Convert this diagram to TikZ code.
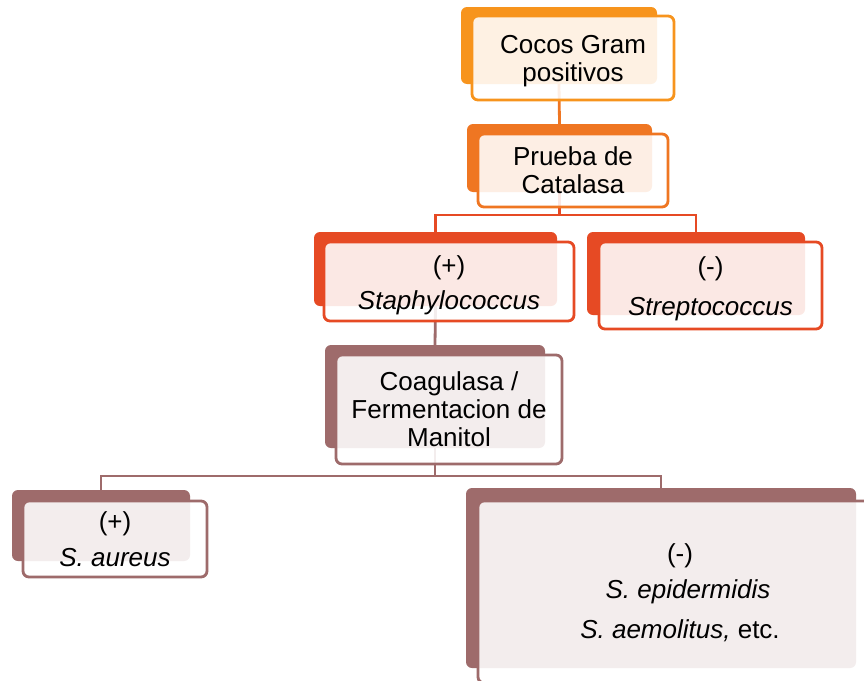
\documentclass[tikz,border=0pt]{standalone}
\usepackage{fontspec}
\setmainfont{Liberation Sans}
\definecolor{cA}{HTML}{F7941D}
\definecolor{cB}{HTML}{EF7622}
\definecolor{cC}{HTML}{E64A24}
\definecolor{cD}{HTML}{9E6B6B}
\begin{document}
\begin{tikzpicture}[x=1pt,y=-1pt,
  backbox/.style={draw=none,fill=#1,rounded corners=6pt,inner sep=0pt},
  frontbox/.style={draw=#1,fill=white,fill opacity=0.88,line width=2.8pt,rounded corners=6pt,inner sep=0pt},
  label text/.style={align=center,inner sep=0pt,font=\fontsize{26}{28}\selectfont},
  conn/.style={draw=#1,line width=2.8pt}]
\useasboundingbox (0,0) rectangle (864,680);
\fill[white] (0,0) rectangle (864,680);
% back boxes
\node[backbox=cA,minimum width=196pt,minimum height=77pt] (b1) at (559,45.5) {};
\node[backbox=cB,minimum width=185pt,minimum height=68pt] (b2) at (559.5,158) {};
\node[backbox=cC,minimum width=243pt,minimum height=74pt] (b3) at (435.5,269) {};
\node[backbox=cC,minimum width=218pt,minimum height=83pt] (b4) at (696,273.5) {};
\node[backbox=cD,minimum width=220pt,minimum height=103pt] (b5) at (435,396.5) {};
\node[backbox=cD,minimum width=178pt,minimum height=71pt] (b6) at (101,525.5) {};
\node[backbox=cD,minimum width=390pt,minimum height=180pt] (b7) at (661,578) {};
% connectors
\coordinate (j2) at (559.5,215);
\coordinate (j5) at (435,476);
\draw[conn=cB] (b1.south) -- (b2.north);
\draw[conn=cC] (b2.south) -- (j2);
\draw[conn=cC] (b3.north) |- (j2) -| (b4.north);
\draw[conn=cD] (b3.south) -- (b5.north);
\draw[conn=cD] (b5.south) -- (j5);
\draw[conn=cD] (b6.north) |- (j5) -| (b7.north);
% front boxes
\node[frontbox=cA,minimum width=202pt,minimum height=84pt] (f1) at (573,58) {};
\node[frontbox=cB,minimum width=190pt,minimum height=73pt] (f2) at (573,170.5) {};
\node[frontbox=cC,minimum width=250pt,minimum height=79pt] (f3) at (449,281.5) {};
\node[frontbox=cC,minimum width=223pt,minimum height=87pt] (f4) at (710.5,285.5) {};
\node[frontbox=cD,minimum width=226pt,minimum height=109pt] (f5) at (449,409.5) {};
\node[frontbox=cD,minimum width=184pt,minimum height=76pt] (f6) at (115,539) {};
\node[frontbox=cD,minimum width=404pt,minimum height=182pt] (f7) at (680,592) {};
% texts
\node[label text] (t1) at (573,61) {Cocos Gram\\positivos};
\node[label text] (t2) at (573,170.5) {Prueba de\\Catalasa};
\node[label text] (t3) at (449,285) {(+)\\[7pt]\textit{Staphylococcus}};
\node[label text] (t4) at (710.5,289) {(-)\\[12pt]\textit{Streptococcus}};
\node[label text] (t5) at (449,409.5) {Coagulasa /\\Fermentacion de\\Manitol};
\node[label text] (t6) at (115,539) {(+)\\[8pt]\textit{S. aureus}};
\node[label text] (t7) at (680,593) {(-)\\[8pt]\hspace*{16pt}\textit{S. epidermidis}\\[12pt]\textit{S. aemolitus,} etc.};
\end{tikzpicture}
\end{document}
